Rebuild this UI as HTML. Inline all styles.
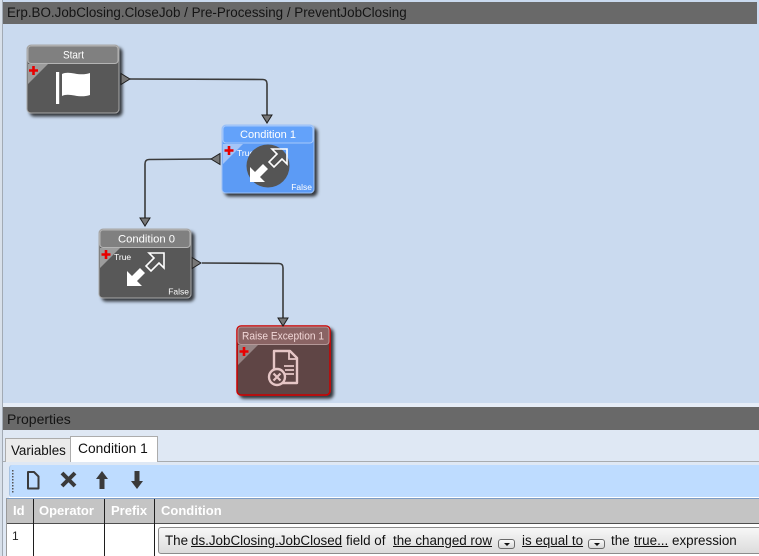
<!DOCTYPE html>
<html><head><meta charset="utf-8">
<style>
*{margin:0;padding:0;box-sizing:border-box}
body{width:759px;height:556px;overflow:hidden;position:relative;background:#dfe8f4;font-family:"Liberation Sans",sans-serif}
.a{position:absolute;white-space:nowrap}
.lk{color:#1b1be8;text-decoration:underline}
.dd{position:absolute;width:17px;height:10px;border:1px solid #6a6a6a;border-radius:3px;background:linear-gradient(#fafafa,#d8d8d8)}
.dd:after{content:"";position:absolute;left:5px;top:3px;border-left:3px solid transparent;border-right:3px solid transparent;border-top:3px solid #111}
.th{position:absolute;top:503px;font-size:13px;font-weight:bold;color:#fff;line-height:16px}
.ct{position:absolute;top:533px;font-size:13.4px;line-height:16px;color:#111}
</style></head><body>
<!-- canvas -->
<div class="a" style="left:0;top:0;width:759px;height:403px;background:#cadaef"></div>
<div class="a" style="left:3px;top:2px;width:754px;height:22px;background:#696969"></div>
<div class="a" style="left:7px;top:5px;font-size:13.4px;color:#141414;line-height:16px">Erp.BO.JobClosing.CloseJob / Pre-Processing / PreventJobClosing</div>
<div class="a" style="left:0;top:403px;width:759px;height:4px;background:#e6edf7"></div>
<!-- properties -->
<div class="a" style="left:3px;top:407px;width:756px;height:23px;background:#696969"></div>
<div class="a" style="left:7px;top:411px;font-size:14px;color:#141414;line-height:17px">Properties</div>
<div class="a" style="left:0;top:0;width:2px;height:556px;background:#d8e0ea"></div>
<div class="a" style="left:2px;top:0;width:1px;height:556px;background:#a2aab4"></div>

<!-- tabs -->
<div class="a" style="left:3px;top:461px;width:756px;height:1px;background:#a8acb0"></div>
<div class="a" style="left:5px;top:438px;width:66px;height:24px;background:#ebebeb;border:1px solid #acacac;border-bottom:none"></div>
<div class="a" style="left:11px;top:443px;font-size:13.4px;color:#111;line-height:16px">Variables</div>
<div class="a" style="left:70px;top:436px;width:88px;height:26px;background:#fff;border:1px solid #acacac;border-bottom:none"></div>
<div class="a" style="left:78px;top:441px;font-size:13.8px;color:#111;line-height:16px">Condition 1</div>

<!-- toolbar -->
<div class="a" style="left:9px;top:465px;width:750px;height:32px;background:#bedcff;border-radius:3px 0 0 3px;border-left:1px solid #a8c4e4"></div>
<div class="a" style="left:9px;top:497px;width:750px;height:1px;background:#ffffff"></div>
<div class="a" style="left:7px;top:498px;width:752px;height:1px;background:#7c9cc4"></div>
<svg class="a" style="left:0;top:465px" width="160" height="32" viewBox="0 465 160 32">
  <g fill="#555">
    <rect x="12" y="470" width="1.5" height="1.5"/><rect x="12" y="473" width="1.5" height="1.5"/><rect x="12" y="476" width="1.5" height="1.5"/><rect x="12" y="479" width="1.5" height="1.5"/><rect x="12" y="482" width="1.5" height="1.5"/><rect x="12" y="485" width="1.5" height="1.5"/><rect x="12" y="488" width="1.5" height="1.5"/><rect x="12" y="491" width="1.5" height="1.5"/>
  </g>
  <path d="M28,472 L34,472 L38.5,476.5 L38.5,488.5 L28,488.5 Z" fill="none" stroke="#3a3a3a" stroke-width="2" stroke-linejoin="round"/>
  <path d="M62,473 L75,486 M75,473 L62,486" stroke="#3a3a3a" stroke-width="4" stroke-linecap="butt"/>
  <path d="M102,471 L108,479 L104.5,479 L104.5,489 L99.5,489 L99.5,479 L96,479 Z" fill="#3a3a3a"/>
  <path d="M137,489 L143,481 L139.5,481 L139.5,471 L134.5,471 L134.5,481 L131,481 Z" fill="#3a3a3a"/>
</svg>

<!-- table -->
<div class="a" style="left:6px;top:498px;width:1px;height:58px;background:#9a9a9a"></div>
<div class="a" style="left:7px;top:499px;width:752px;height:24px;background:#c4c4c4"></div>
<div class="a" style="left:7px;top:523px;width:752px;height:1px;background:#4e4e4e"></div>
<div class="a" style="left:7px;top:524px;width:752px;height:32px;background:#fff"></div>
<div class="a" style="left:33px;top:499px;width:1px;height:57px;background:#1e1e1e"></div>
<div class="a" style="left:104px;top:499px;width:1px;height:57px;background:#1e1e1e"></div>
<div class="a" style="left:154px;top:499px;width:1px;height:57px;background:#1e1e1e"></div>
<div class="th" style="left:13px">Id</div>
<div class="th" style="left:39px">Operator</div>
<div class="th" style="left:111px">Prefix</div>
<div class="th" style="left:161px">Condition</div>
<div class="a" style="left:12px;top:529px;font-size:12px;color:#222;line-height:14px">1</div>
<div class="a" style="left:158px;top:527px;width:605px;height:27px;border:1px solid #8c8c8c;border-radius:3px;background:linear-gradient(#f7f7f7,#e9e9e9 50%,#dcdcdc)"></div>
<div class="ct" style="left:165px">The</div>
<div class="ct lk" style="left:191px">ds.JobClosing.JobClosed</div>
<div class="ct" style="left:346px">field of</div>
<div class="ct lk" style="left:393px">the changed row</div>
<div class="dd" style="left:498px;top:539px"></div>
<div class="ct lk" style="left:522px">is equal to</div>
<div class="dd" style="left:588px;top:539px"></div>
<div class="ct" style="left:611px">the</div>
<div class="ct lk" style="left:634px">true...</div>
<div class="ct" style="left:672px">expression</div>

<!-- diagram -->
<svg class="a" style="left:0;top:0" width="759" height="403" viewBox="0 0 759 403" font-family="Liberation Sans, sans-serif">
  <defs>
    <filter id="sh" x="-20%" y="-20%" width="150%" height="150%">
      <feDropShadow dx="3" dy="3" stdDeviation="1.6" flood-color="#000" flood-opacity="0.75"/>
    </filter>
  </defs>

  <!-- connectors -->
  <g fill="none" stroke="#3a3a3a" stroke-width="1.6">
    <path d="M130,79 L263,79.5 Q267,79.5 267,84 L267,115"/>
    <path d="M211,159 L149,159.5 Q145,159.5 145,164 L145,218"/>
    <path d="M202,263 L279,263.5 Q283,263.5 283,268 L283,318"/>
  </g>

  <!-- Start -->
  <g filter="url(#sh)">
    <rect x="27" y="45" width="92" height="68" rx="4" fill="#595959" stroke="#a9a9a9"/>
  </g>
  <rect x="28" y="46" width="90" height="17.5" rx="3" fill="#808080" stroke="#b4b4b4"/>
  <path d="M28,64 L48,64 L28,84 Z" fill="#9c9c9c"/>
  <path d="M33.5,66 v9 M29,70.5 h9" stroke="#e80000" stroke-width="2.6"/>
  <text x="63" y="58.5" font-size="11" fill="#fff" textLength="21" lengthAdjust="spacingAndGlyphs">Start</text>
  <rect x="56" y="72" width="3.2" height="32" fill="#fff"/>
  <path d="M62,74 C70,70 78,77 90,73 L90,95 C78,99 70,92 62,96 Z" fill="#fff"/>
  <path d="M121,73.5 L121,84.5 L130,79 Z" fill="#777" stroke="#1e1e1e" stroke-width="1"/>

  <!-- Condition 1 -->
  <g filter="url(#sh)">
    <rect x="222" y="125" width="92" height="68" rx="4" fill="#5c9bf5" stroke="#9cc2f8"/>
  </g>
  <rect x="223" y="126" width="90" height="17" rx="3" fill="#63a2fa" stroke="#a6c8fa"/>
  <path d="M223,144 L243,144 L223,164 Z" fill="#a3c5f8"/>
  <path d="M229,146 v9 M224.5,150.5 h9" stroke="#e80000" stroke-width="2.6"/>
  <text x="237" y="156" font-size="8.5" fill="#fff">True</text>
  <text x="312" y="190" font-size="8.5" fill="#fff" text-anchor="end">False</text>
  <text x="240" y="138" font-size="11" fill="#fff" textLength="56" lengthAdjust="spacingAndGlyphs">Condition 1</text>
  <circle cx="268" cy="166" r="21.5" fill="#555"/>
  <g transform="translate(268,166)">
    <polygon points="-18,16 -18,1 -13,6 -5,-2 0,3 -8,11 -3,16" fill="#fff"/>
    <polygon points="18,-16 18,-1 13,-6 5,2 0,-3 8,-11 3,-16" fill="none" stroke="#fff" stroke-width="1.6" stroke-linejoin="miter" transform="translate(1,-1)"/>
  </g>
  <path d="M220,153.5 L220,164.5 L211,159 Z" fill="#777" stroke="#1e1e1e" stroke-width="1"/>
  <path d="M262,115 L272,115 L267,123 Z" fill="#777" stroke="#1e1e1e" stroke-width="1"/>

  <!-- Condition 0 -->
  <g filter="url(#sh)">
    <rect x="99" y="229" width="92" height="69" rx="4" fill="#595959" stroke="#a9a9a9"/>
  </g>
  <rect x="100" y="230" width="90" height="17.5" rx="3" fill="#808080" stroke="#b4b4b4"/>
  <path d="M100,248 L120,248 L100,268 Z" fill="#9c9c9c"/>
  <path d="M106,250 v9 M101.5,254.5 h9" stroke="#e80000" stroke-width="2.6"/>
  <text x="114" y="260" font-size="8.5" fill="#fff">True</text>
  <text x="189" y="294.5" font-size="8.5" fill="#fff" text-anchor="end">False</text>
  <text x="118" y="242.5" font-size="11" fill="#fff" textLength="57" lengthAdjust="spacingAndGlyphs">Condition 0</text>
  <g transform="translate(145,270)">
    <polygon points="-18,16 -18,1 -13,6 -5,-2 0,3 -8,11 -3,16" fill="#fff"/>
    <polygon points="18,-16 18,-1 13,-6 5,2 0,-3 8,-11 3,-16" fill="none" stroke="#fff" stroke-width="1.6" transform="translate(1,-1)"/>
  </g>
  <path d="M192,257.5 L192,268.5 L201,263 Z" fill="#777" stroke="#1e1e1e" stroke-width="1"/>
  <path d="M140,218 L150,218 L145,226 Z" fill="#777" stroke="#1e1e1e" stroke-width="1"/>

  <!-- Raise Exception 1 -->
  <g filter="url(#sh)">
    <rect x="237" y="326" width="93" height="69" rx="4" fill="#5e4545" stroke="#cc0000" stroke-width="1.5"/>
  </g>
  <rect x="238" y="327" width="91" height="17.5" rx="3" fill="#8a6464" stroke="#b49898"/>
  <path d="M238,345 L258,345 L238,365 Z" fill="#968484"/>
  <path d="M244,347 v9 M239.5,351.5 h9" stroke="#e80000" stroke-width="2.6"/>
  <text x="242" y="339.5" font-size="11" fill="#f2d8d8" textLength="82" lengthAdjust="spacingAndGlyphs">Raise Exception 1</text>
  <path d="M274,370 L274,351 L290,351 L297,358 L297,383 L282,383" fill="none" stroke="#e6c6c6" stroke-width="2.4" stroke-linejoin="round"/>
  <path d="M289,351 L289,359 L297,359" fill="none" stroke="#e6c6c6" stroke-width="1.8"/>
  <path d="M284,366 h10 M285,370 h9 M285,374 h9" stroke="#e6c6c6" stroke-width="1.8"/>
  <circle cx="277" cy="377" r="8" fill="#5e4545" stroke="#e6c6c6" stroke-width="2.4"/>
  <path d="M273.5,373.5 L280.5,380.5 M280.5,373.5 L273.5,380.5" stroke="#e6c6c6" stroke-width="2.2"/>
  <path d="M278,318 L288,318 L283,326 Z" fill="#777" stroke="#1e1e1e" stroke-width="1"/>
</svg>
</body></html>
